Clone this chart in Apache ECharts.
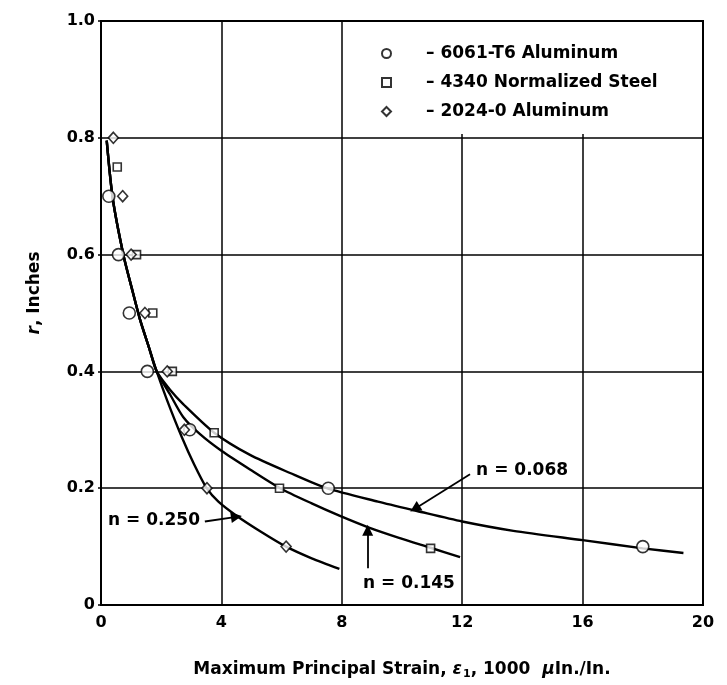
<!DOCTYPE html>
<html>
<head>
<meta charset="utf-8">
<script src="https://cdn.jsdelivr.net/npm/echarts@6/dist/echarts.min.js"></script>
<style>
  html, body { margin: 0; padding: 0; background: #fff; }
  #chart { width: 727px; height: 685px; }
</style>
</head>
<body>
<div id="chart"></div>
<script>
// Tick labels
const xTickLabels = ['0', '4', '8', '12', '16', '20'];
const yTickLabels = ['0', '0.2', '0.4', '0.6', '0.8', '1.0'];

// Materials (legend names)
const materials = ['6061-T6 Aluminum', '4340 Normalized Steel', '2024-0 Aluminum'];

// Measured points: [strain (1000 µin./in.), r (in.)]
const al6061 = [[0.26, 0.70], [0.58, 0.60], [0.94, 0.50], [1.54, 0.40], [2.95, 0.30], [7.55, 0.20], [18.0, 0.10]];
const steel4340 = [[0.54, 0.75], [1.18, 0.60], [1.72, 0.50], [2.37, 0.40], [3.76, 0.295], [5.93, 0.20], [10.95, 0.097]];
const al2024 = [[0.41, 0.80], [0.72, 0.70], [1.0, 0.60], [1.46, 0.50], [2.2, 0.40], [2.77, 0.30], [3.52, 0.20], [6.15, 0.10]];

// Fitted curves for three hardening exponents (common upper branch, then splitting)
const curveN068 = [[0.19, 0.795], [0.39, 0.696], [0.75, 0.598], [1.02, 0.543], [1.29, 0.49], [1.6, 0.44], [1.85, 0.40],
  [2.3, 0.368], [2.73, 0.344], [3.76, 0.295], [4.95, 0.257], [6.28, 0.226], [7.5, 0.2], [9.2, 0.177], [10.5, 0.161],
  [12.0, 0.143], [13.7, 0.127], [16.0, 0.111], [18.0, 0.097], [19.35, 0.089]];
const curveN145 = [[0.19, 0.795], [0.39, 0.696], [0.75, 0.598], [1.02, 0.543], [1.29, 0.49], [1.6, 0.44], [1.85, 0.40],
  [2.3, 0.36], [2.73, 0.322], [3.3, 0.292], [4.0, 0.264], [4.95, 0.232], [5.95, 0.2], [7.0, 0.174], [7.92, 0.153],
  [8.88, 0.133], [9.9, 0.115], [10.95, 0.098], [11.93, 0.082]];
const curveN250 = [[0.19, 0.795], [0.39, 0.696], [0.75, 0.598], [1.02, 0.543], [1.29, 0.49], [1.6, 0.44], [1.85, 0.40],
  [2.2, 0.35], [2.68, 0.288], [3.1, 0.24], [3.51, 0.2], [3.9, 0.177], [4.5, 0.153], [5.3, 0.126], [6.15, 0.1],
  [7.0, 0.08], [7.92, 0.062]];

// Curve labels and their pointer arrows (data coordinates)
const curveLabels = [
  { name: 'n = 0.068', at: [13.99, 0.231], from: [12.26, 0.224], to: [10.43, 0.165] },
  { name: 'n = 0.250', at: [1.76, 0.145], from: [3.45, 0.143], to: [4.5, 0.151] },
  { name: 'n = 0.145', at: [10.23, 0.037], from: [8.86, 0.063], to: [8.86, 0.128] }
];

const FONT = 'DejaVu Sans';
const BLACK = '#000';

const chart = echarts.init(document.getElementById('chart'), null, { renderer: 'canvas' });

function curveSeries(name, data) {
  return {
    name: name,
    type: 'line',
    data: data,
    smooth: 0.25,
    showSymbol: false,
    symbol: 'none',
    silent: true,
    z: 3,
    lineStyle: { color: BLACK, width: 2.4 }
  };
}

function pointSeries(name, data, symbol, size) {
  return {
    name: name,
    type: 'scatter',
    data: data,
    symbol: symbol,
    symbolSize: size,
    z: 5,
    itemStyle: { color: '#fff', borderColor: BLACK, borderWidth: 1.6 }
  };
}

const option = {
  animation: false,
  backgroundColor: '#fff',
  grid: {
    left: 101, right: 24, top: 21, bottom: 76,
    show: true, borderColor: BLACK, borderWidth: 2, backgroundColor: 'transparent'
  },
  graphic: [{
    type: 'rect',
    z: 1,
    shape: { x: 343, y: 22, width: 358, height: 112 },
    style: { fill: '#fff' }
  }],
  legend: {
    orient: 'vertical',
    left: 376,
    top: 40,
    itemGap: 12,
    itemWidth: 9,
    itemHeight: 9,
    z: 6,
    data: materials,
    formatter: function (n) { return '\u2013 ' + n; },
    textStyle: { fontFamily: FONT, fontWeight: 'bold', fontSize: 17, color: BLACK, padding: [0, 0, 0, 30] }
  },
  xAxis: {
    type: 'value',
    min: 0, max: 20, interval: 4,
    name: 'Maximum Principal Strain, {e|\u03b5}{s|1}, 1000  {m|\u03bc}In./In.',
    nameLocation: 'middle',
    nameGap: 54,
    nameTextStyle: {
      fontFamily: FONT, fontWeight: 'bold', fontSize: 17, color: BLACK,
      rich: {
        e: { fontFamily: FONT, fontStyle: 'italic', fontWeight: 'bold', fontSize: 17, color: BLACK },
        s: { fontFamily: FONT, fontWeight: 'bold', fontSize: 11, color: BLACK, padding: [10, 0, 0, 1] },
        m: { fontFamily: FONT, fontStyle: 'italic', fontWeight: 'bold', fontSize: 17, color: BLACK }
      }
    },
    axisLine: { show: true, lineStyle: { color: BLACK, width: 2 } },
    axisTick: { show: false },
    splitLine: { show: true, lineStyle: { color: BLACK, width: 1.5 } },
    axisLabel: {
      margin: 10,
      fontFamily: FONT, fontWeight: 'bold', fontSize: 16, color: BLACK,
      formatter: function (v, i) { return xTickLabels[i]; }
    }
  },
  yAxis: {
    type: 'value',
    min: 0, max: 1.0, interval: 0.2,
    name: '{r|r}, Inches',
    nameLocation: 'middle',
    nameGap: 58,
    nameRotate: 90,
    nameTextStyle: {
      fontFamily: FONT, fontWeight: 'bold', fontSize: 17, color: BLACK,
      padding: [0, 0, 0, 40],
      rich: {
        r: { fontFamily: FONT, fontStyle: 'italic', fontWeight: 'bold', fontSize: 17, color: BLACK }
      }
    },
    axisLine: { show: true, lineStyle: { color: BLACK, width: 2 } },
    axisTick: { show: true, length: 3, lineStyle: { color: BLACK, width: 1.5 } },
    splitLine: { show: true, lineStyle: { color: BLACK, width: 1.5 } },
    axisLabel: {
      margin: 6,
      fontFamily: FONT, fontWeight: 'bold', fontSize: 16, color: BLACK,
      verticalAlign: 'middle',
      padding: [0, 0, 10, 0],
      formatter: function (v, i) { return yTickLabels[i]; }
    }
  },
  series: [
    curveSeries('n = 0.068 curve', curveN068),
    curveSeries('n = 0.145 curve', curveN145),
    curveSeries('n = 0.250 curve', curveN250),
    pointSeries(materials[0], al6061, 'circle', 12),
    pointSeries(materials[1], steel4340, 'rect', 8),
    pointSeries(materials[2], al2024, 'diamond', [10, 11]),
    {
      name: 'curve labels',
      type: 'scatter',
      data: curveLabels.map(function (c) { return { name: c.name, value: c.at }; }),
      symbol: 'circle',
      symbolSize: 0.01,
      itemStyle: { color: BLACK, opacity: 1 },
      silent: true,
      z: 6,
      label: {
        show: true,
        position: 'inside',
        formatter: function (p) { return p.name; },
        fontFamily: FONT, fontWeight: 'bold', fontSize: 17, color: BLACK,
        textBorderWidth: 0, opacity: 1
      },
      markLine: {
        silent: true,
        symbol: ['none', 'triangle'],
        symbolSize: 11,
        label: { show: false },
        lineStyle: { color: BLACK, width: 1.8, type: 'solid' },
        data: curveLabels.map(function (c) { return [{ coord: c.from }, { coord: c.to }]; })
      }
    }
  ]
};

chart.setOption(option);
</script>
</body>
</html>
